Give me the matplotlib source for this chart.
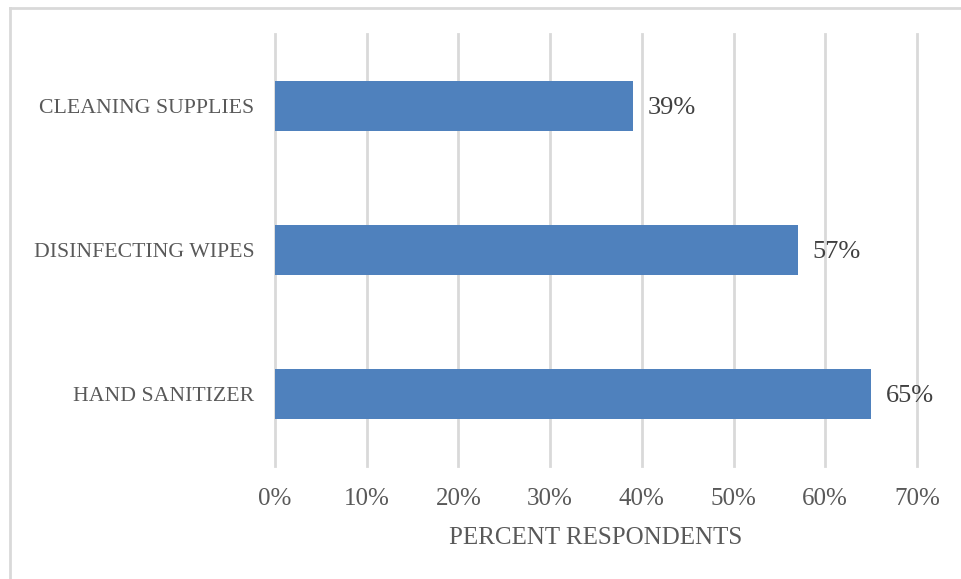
import matplotlib.pyplot as plt
from matplotlib.lines import Line2D

# data
categories = ["HAND SANITIZER", "DISINFECTING WIPES", "CLEANING SUPPLIES"]
values = [65, 57, 39]
ticks = [0, 10, 20, 30, 40, 50, 60, 70]

plt.rcParams['font.family'] = ['Liberation Serif', 'DejaVu Serif']

fig = plt.figure(figsize=(9.61, 5.79), dpi=100)
ax = fig.add_axes([275/961, 1-466/579, 642/961, 432/579])

pos = range(len(categories))
ax.barh(pos, values, height=0.35, color='#4f81bd', zorder=3)

# value labels right of the bars
for p, v in zip(pos, values):
    ax.text(v + 1.6, p - 0.015, f"{v}%", va='center', ha='left', fontsize=19, color='#404040')

ax.set_xlim(0, 70)
ax.set_ylim(-0.5, 2.5)
ax.set_xticks(ticks)
ax.set_xticklabels([f"{t}%" for t in ticks], fontsize=18, color='#595959')
ax.set_yticks(list(pos))
ax.set_yticklabels(categories, fontsize=15.7, color='#595959')
ax.tick_params(axis='both', length=0)
ax.tick_params(axis='x', pad=16)
ax.tick_params(axis='y', pad=15)

ax.grid(axis='x', color='#d9d9d9', linewidth=2, zorder=0)
for g in ax.xaxis.get_gridlines():
    g.set_clip_on(False)
for s in ax.spines.values():
    s.set_visible(False)

ax.set_xlabel("PERCENT RESPONDENTS", fontsize=18, color='#595959', labelpad=12)

# outer frame (top and left edges visible)
fig.add_artist(Line2D([10/961, 1], [1-8/579, 1-8/579], color='#d9d9d9', linewidth=2, transform=fig.transFigure))
fig.add_artist(Line2D([10/961, 10/961], [0, 1-8/579], color='#d9d9d9', linewidth=2, transform=fig.transFigure))

fig.savefig("out.png", dpi=100)
